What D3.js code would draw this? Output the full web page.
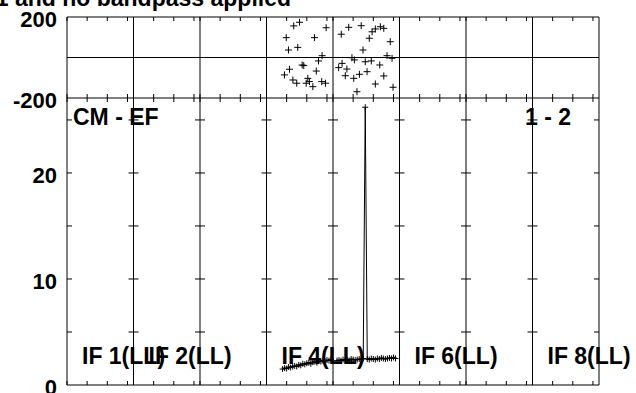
<!DOCTYPE html>
<html>
<head>
  <meta charset="utf-8">
  <title>POSSM spectrum</title>
  <script src="https://d3js.org/d3.v7.min.js"></script>
  <style>
    body { margin: 0; background: #fff; }
    text { font-family: "Liberation Sans", Arial, sans-serif; font-weight: bold; fill: #000; }
  </style>
</head>
<body>
  <svg id="chart" width="636" height="393"></svg>

  <script>
    // panels = IFs, channels per panel
    var nPanels = 8;
    var chPerPanel = 33;
    var chTicks = [0, 10, 20, 30];
    var phaseTicks = [-200, 200];
    var ampTicks = [0, 10, 20];
    var ampMinorTicks = [5, 10, 15, 20, 25];
    var ifLabels = ["IF 1(LL)", "IF 2(LL)", "", "IF 4(LL)", "", "IF 6(LL)", "", "IF 8(LL)"];

    // phase (deg) per IF: [channel, phase]
    var if4Phase = [[8.9,-86],[9.8,98],[10.9,37],[11.4,-58],[13.1,-111],[13.5,156],[15.0,-127],[15.5,50],
      [16.4,174],[17.7,-37],[18.5,-40],[19.7,-127],[20.5,-103],[21.3,-119],[23.0,-144],[23.8,98],
      [24.7,-67],[25.8,-17],[27.4,-119],[27.6,9],[29.3,-127],[29.6,147]];
    var if5Phase = [[2.8,-50],[4.1,115],[4.5,-29],[6.1,-90],[6.9,-57],[7.8,149],[9.4,-1],[10.3,-103],
      [10.6,-12],[11.9,-169],[13.1,-83],[14.0,157],[14.9,37],[16.0,-21],[16.9,-70],[18.0,95],
      [19.0,-17],[19.4,127],[21.0,141],[21.0,-131],[23.2,-37],[23.5,152],[25.2,144],[25.2,-91],
      [26.8,9],[28.4,78],[29.3,-4],[29.8,-147]];

    // amplitude per IF, first channel + values
    var if4AmpStart = 8;
    var if4Amp = [1.5,1.6,1.55,1.7,1.65,1.75,1.8,1.75,1.9,1.85,2.0,1.95,2.05,2.1,2.0,2.15,2.2,2.1,
      2.25,2.2,2.3,2.25,2.35,2.3,2.4];
    var if5AmpStart = 2;
    var if5Amp = [2.3,2.35,2.3,2.4,2.35,2.4,2.3,2.45,2.4,2.35,2.4,2.45,2.4,2.5,26.2,2.45,2.4,2.5,
      2.45,2.4,2.5,2.45,2.55,2.5,2.45,2.5,2.55,2.5,2.6,2.5];

    var svg = d3.select("#chart");
    var left = 67, right = 599;

    var x = d3.scaleLinear().domain([0, nPanels * chPerPanel]).range([left, right]);
    var yPh = d3.scaleLinear().domain([-200, 200]).range([98, 17]);
    var yAmp = d3.scaleLinear().domain([0, 27.07]).range([385, 98]);

    function chX(panel, ch) { return x((panel - 1) * chPerPanel + ch); }

    var frame = svg.append("g").attr("stroke", "#000").attr("stroke-width", 1).attr("fill", "none");

    // horizontal borders
    [yPh(200), yPh(0), yPh(-200), yAmp(0)].forEach(function(yy) {
      frame.append("line").attr("x1", left).attr("x2", right).attr("y1", yy).attr("y2", yy);
    });

    // panel separators
    d3.range(nPanels + 1).forEach(function(i) {
      var xx = x(i * chPerPanel);
      frame.append("line").attr("x1", xx).attr("x2", xx).attr("y1", yPh(200)).attr("y2", yAmp(0));
      // amplitude ticks on each separator
      ampMinorTicks.forEach(function(v) {
        var x1 = i === 0 ? xx : xx - 5;
        var x2 = i === nPanels ? xx : xx + 5;
        frame.append("line").attr("x1", x1).attr("x2", x2).attr("y1", yAmp(v)).attr("y2", yAmp(v));
      });
    });

    // channel ticks
    d3.range(nPanels).forEach(function(p) {
      chTicks.forEach(function(c) {
        var xx = x(p * chPerPanel + c);
        frame.append("line").attr("x1", xx).attr("x2", xx).attr("y1", yPh(200)).attr("y2", yPh(200) + 4);
        frame.append("line").attr("x1", xx).attr("x2", xx).attr("y1", yPh(-200) - 4).attr("y2", yPh(-200) + 4);
        frame.append("line").attr("x1", xx).attr("x2", xx).attr("y1", yAmp(0) - 4).attr("y2", yAmp(0));
      });
    });

    // tick labels (plain hyphen, as in the plot)
    var fmt = function(d) { return String(d); };
    var axPh = svg.append("g").attr("transform", "translate(" + left + ",0)")
      .call(d3.axisLeft(yPh).tickValues(phaseTicks).tickSize(0).tickPadding(10).tickFormat(fmt));
    var axAmp = svg.append("g").attr("transform", "translate(" + left + ",0)")
      .call(d3.axisLeft(yAmp).tickValues(ampTicks).tickSize(0).tickPadding(10).tickFormat(fmt));
    [axPh, axAmp].forEach(function(g) {
      g.select(".domain").remove();
      g.selectAll("text").attr("font-size", 22).attr("font-family", "Liberation Sans")
        .attr("font-weight", "bold").attr("fill", "#000").attr("dy", "0.42em");
    });

    // title (cut off at top)
    svg.append("text").attr("x", 291).attr("y", 6).attr("text-anchor", "end")
      .attr("font-size", 23).text("CL table 1 and no bandpass applied");

    svg.append("text").attr("x", 73).attr("y", 125).attr("font-size", 23).text("CM - EF");
    svg.append("text").attr("x", 525).attr("y", 125).attr("font-size", 23).text("1 - 2");

    ifLabels.forEach(function(lab, i) {
      if (!lab) return;
      svg.append("text").attr("x", x(i * chPerPanel) + 15).attr("y", 364)
        .attr("font-size", 23).text(lab);
    });

    // data
    var marks = svg.append("g").attr("stroke", "#000").attr("stroke-width", 1).attr("fill", "none");

    function plus(px, py, s) {
      marks.append("path").attr("d", "M" + (px - s) + "," + py + "H" + (px + s) + "M" + px + "," + (py - s) + "V" + (py + s));
    }

    [[4, if4Phase], [5, if5Phase]].forEach(function(d) {
      d[1].forEach(function(p) { plus(chX(d[0], p[0]), yPh(p[1]), 3.5); });
    });

    [[4, if4AmpStart, if4Amp], [5, if5AmpStart, if5Amp]].forEach(function(d) {
      var pts = d[2].map(function(v, i) { return [chX(d[0], d[1] + i), yAmp(v)]; });
      marks.append("path").attr("d", d3.line()(pts));
      pts.forEach(function(p) { plus(p[0], p[1], 3); });
    });
  </script>
</body>
</html>
